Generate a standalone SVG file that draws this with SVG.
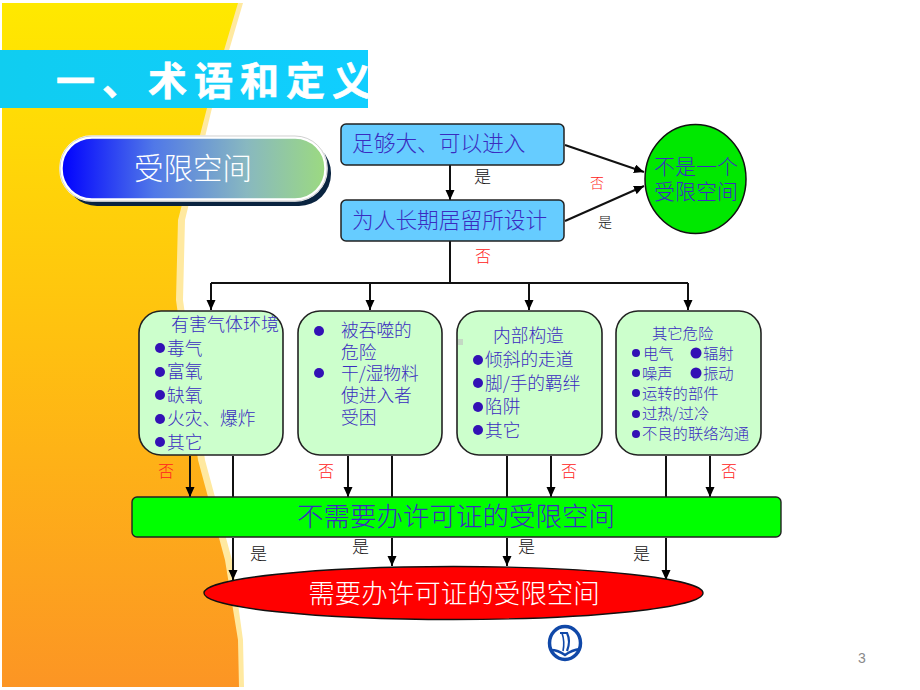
<svg xmlns="http://www.w3.org/2000/svg" width="920" height="690" viewBox="0 0 920 690">
<defs>
<linearGradient id="bgGrad" x1="0" y1="0" x2="0" y2="1"><stop offset="0" stop-color="#ffe900"/><stop offset="0.5" stop-color="#ffc010"/><stop offset="1" stop-color="#fc9524"/></linearGradient>
<linearGradient id="pillGrad" x1="0" y1="0" x2="1" y2="0"><stop offset="0" stop-color="#0000ff"/><stop offset="0.35" stop-color="#5078e8"/><stop offset="0.7" stop-color="#88b8c0"/><stop offset="1" stop-color="#9cda80"/></linearGradient>
<linearGradient id="titleGrad" x1="0" y1="0" x2="1" y2="0"><stop offset="0" stop-color="#10cdf0"/><stop offset="1" stop-color="#10ceff"/></linearGradient>
<marker id="arrow" markerUnits="userSpaceOnUse" markerWidth="12" markerHeight="10" refX="10" refY="4.5" orient="auto"><path d="M0 0L10 4.5L0 9Z" fill="#000"/></marker>
<style>
text{font-family:"Noto Sans CJK SC","Noto Sans CJK JP",sans-serif;font-weight:300}
.blue{fill:#3a2cc0}
.box{fill:#ccffcc;stroke:#222;stroke-width:1.6}
.flow{fill:#66ccff;stroke:#222;stroke-width:1.5}
.dot{fill:#3311b5}
.line{fill:none;stroke:#111;stroke-width:2}
.tip{marker-end:url(#arrow)}
.no{fill:#ff2020;font-size:16px}
.yes{fill:#111;font-size:17px}
.t17{font-size:17.7px}
.t15{font-size:15.3px}
</style>
</defs>

<!-- backdrop wedge -->
<path d="M243 3L212 108L185 220L183 300L205 460L232 560L243 640L244 687L232 687L2 687L2 3Z" fill="#ffe9a0"/>
<path d="M238 3L207 108L178 220L176 300L198 460L225 560L238 640L239 687L2 687L2 3Z" fill="url(#bgGrad)"/>

<g id="title">
<rect x="0" y="50" width="368" height="58" fill="url(#titleGrad)"/>
<text x="56" y="95" font-size="39" letter-spacing="7" fill="#fff" stroke="#fff" stroke-width="0.6" style="font-weight:700">一、术语和定义</text>
</g>

<g id="pill">
<rect x="65" y="141" width="266" height="65" rx="32" fill="#0a2440"/>
<rect x="61" y="137" width="265" height="63" rx="31" fill="url(#pillGrad)" stroke="#fff" stroke-width="3.5"/>
<rect x="60" y="136" width="267" height="65" rx="32" fill="none" stroke="#bbb" stroke-width="0.7"/>
<text x="193" y="179" font-size="29.5" fill="#fff" text-anchor="middle">受限空间</text>
</g>

<g id="connectors">
<path class="line tip" d="M450 165V200"/>
<path class="line tip" d="M565 145L644 172"/>
<path class="line tip" d="M565 221L644 186"/>
<path class="line" d="M450 241V283"/>
<path class="line" d="M211 283H688"/>
<path class="line tip" d="M211 283V310"/>
<path class="line tip" d="M370 283V310"/>
<path class="line tip" d="M529 283V310"/>
<path class="line tip" d="M688 283V310"/>
<path class="line tip" d="M190 456V497"/>
<path class="line" d="M233 456V497"/>
<path class="line tip" d="M348 456V497"/>
<path class="line" d="M392 456V497"/>
<path class="line" d="M507 456V497"/>
<path class="line tip" d="M551 456V497"/>
<path class="line" d="M666 456V497"/>
<path class="line tip" d="M710 456V497"/>
<path class="line tip" d="M233 538V580"/>
<path class="line tip" d="M392 538V566"/>
<path class="line tip" d="M507 538V566"/>
<path class="line tip" d="M666 538V580"/>
</g>

<g id="enter-node">
<rect class="flow" x="341" y="124" width="223" height="41" rx="5"/>
<text class="blue" x="352" y="151" font-size="21.7">足够大、可以进入</text>
</g>
<g id="design-node">
<rect class="flow" x="341" y="200" width="223" height="41" rx="5"/>
<text class="blue" x="352" y="228" font-size="21.7">为人长期居留所设计</text>
</g>
<g id="not-space">
<ellipse cx="695.500" cy="179" rx="50.500" ry="54.500" fill="#00e800" stroke="#111" stroke-width="1.5"/>
<text class="blue" x="696" y="174" font-size="21" text-anchor="middle">不是一个</text>
<text class="blue" x="696" y="199" font-size="21" text-anchor="middle">受限空间</text>
</g>

<g id="labels">
<text class="yes" x="474" y="183">是</text>
<text class="no" x="590" y="188" style="font-size:14px">否</text>
<text class="yes" x="598" y="227" style="font-size:14px">是</text>
<text class="no" x="475" y="262">否</text>
<text class="no" x="158" y="477">否</text>
<text class="no" x="318" y="477">否</text>
<text class="no" x="561" y="477">否</text>
<text class="no" x="721" y="477">否</text>
<text class="yes" x="250" y="560">是</text>
<text class="yes" x="352" y="553">是</text>
<text class="yes" x="518" y="553">是</text>
<text class="yes" x="633" y="560">是</text>
</g>

<g id="gas-node">
<rect class="box" x="139" y="311" width="144" height="144" rx="22"/>
<g class="blue t17">
<text x="171" y="331" style="font-size:18px">有害气体环境</text>
<text x="167" y="355">毒气</text>
<text x="167" y="378">富氧</text>
<text x="167" y="402">缺氧</text>
<text x="167" y="425">火灾、爆炸</text>
<text x="167" y="449">其它</text>
</g>
<circle class="dot" cx="160" cy="348" r="5"/><circle class="dot" cx="160" cy="372" r="5"/><circle class="dot" cx="160" cy="395" r="5"/><circle class="dot" cx="160" cy="419" r="5"/><circle class="dot" cx="160" cy="442" r="5"/>
</g>

<g id="engulf-node">
<rect class="box" x="298" y="311" width="144" height="144" rx="22"/>
<g class="blue t17">
<text x="341" y="337">被吞噬的</text>
<text x="341" y="359">危险</text>
<text x="341" y="380">干/湿物料</text>
<text x="341" y="402">使进入者</text>
<text x="341" y="424">受困</text>
</g>
<circle class="dot" cx="319" cy="331" r="5"/><circle class="dot" cx="319" cy="373" r="5"/>
</g>

<g id="structure-node">
<rect class="box" x="457" y="311" width="145" height="144" rx="22"/>
<g class="blue t17">
<text x="493" y="342">内部构造</text>
<text x="485" y="366">倾斜的走道</text>
<text x="485" y="390">脚/手的羁绊</text>
<text x="485" y="413">陷阱</text>
<text x="485" y="437">其它</text>
</g>
<circle class="dot" cx="478" cy="360" r="5"/><circle class="dot" cx="478" cy="383" r="5"/><circle class="dot" cx="478" cy="407" r="5"/><circle class="dot" cx="478" cy="430" r="5"/>
<rect x="458" y="339" width="5" height="6" fill="#c4d8c4"/>
</g>

<g id="other-node">
<rect class="box" x="616" y="311" width="145" height="144" rx="22"/>
<g class="blue t15">
<text x="652" y="339">其它危险</text>
<text x="643" y="359">电气</text><text x="703" y="359">辐射</text>
<text x="642" y="379">噪声</text><text x="703" y="379">振动</text>
<text x="642" y="399">运转的部件</text>
<text x="642" y="419">过热/过冷</text>
<text x="642" y="439">不良的联络沟通</text>
</g>
<circle class="dot" cx="636" cy="353" r="4"/><circle class="dot" cx="696" cy="353" r="5.500"/><circle class="dot" cx="636" cy="373" r="4"/><circle class="dot" cx="696" cy="373" r="5.500"/><circle class="dot" cx="636" cy="393" r="4"/><circle class="dot" cx="636" cy="414" r="4"/><circle class="dot" cx="636" cy="434" r="4"/>
</g>

<g id="no-permit">
<rect x="132" y="497" width="649" height="40" rx="5" fill="#00ff00" stroke="#222" stroke-width="1.4"/>
<text class="blue" x="456" y="526" font-size="26.5" text-anchor="middle">不需要办许可证的受限空间</text>
</g>

<g id="permit">
<ellipse cx="453.500" cy="593" rx="249.500" ry="26.500" fill="#ff0000" stroke="#111" stroke-width="1.4"/>
<text x="454" y="603" font-size="26.500" fill="#fff" text-anchor="middle">需要办许可证的受限空间</text>
</g>

<g id="logo" fill="none" stroke="#1048a8">
<ellipse cx="565" cy="643" rx="15.500" ry="16.500" stroke-width="3.5"/>
<path d="M551 650Q558 650 565 655Q572 650 580 649" stroke-width="2.5"/>
<path d="M560 633H567Q571 641 567 651" stroke-width="2.2"/>
<path d="M562 633Q565 642 563 651" stroke-width="1.6"/>
</g>

<text x="858" y="663" font-size="14" fill="#8a8a8a" style="font-family:'Liberation Sans',sans-serif;font-weight:400">3</text>
</svg>
